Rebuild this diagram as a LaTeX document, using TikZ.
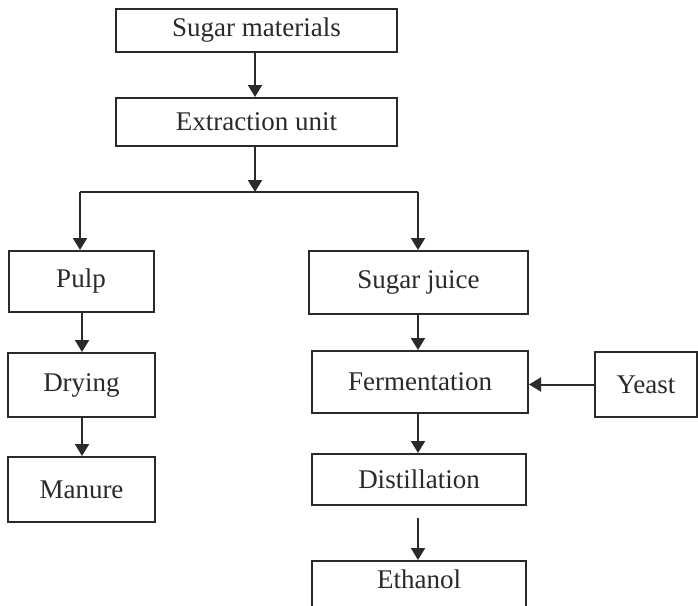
\documentclass[tikz,border=0pt]{standalone}
\usepackage{fontspec}
\setmainfont{Liberation Serif}
\usetikzlibrary{arrows.meta}
\definecolor{ink}{HTML}{2A2A2A}
\begin{document}
\begin{tikzpicture}[x=1pt, y=-1pt,
  box/.style={draw=ink, line width=2pt, fill=white, inner sep=0pt,
              font=\fontsize{27}{31}\selectfont, text=ink},
  flow/.style={draw=ink, line width=2pt, -{Triangle[width=14pt,length=12pt]}},
  link/.style={draw=ink, line width=2pt}]
\useasboundingbox (0,0) rectangle (698,605);
\clip (0,0) rectangle (698,605);

% process steps
\node[box, minimum width=281pt, minimum height=43pt] (sugar)   at (256.5,30.5) {Sugar materials};
\node[box, minimum width=281pt, minimum height=48pt] (extract) at (256.5,122)  {Extraction unit};
\node[box, minimum width=145pt, minimum height=61pt] (pulp)    at (81,281.5)   {Pulp};
\node[box, minimum width=147pt, minimum height=64pt] (drying)  at (81.5,385)   {Drying};
\node[box, minimum width=147pt, minimum height=65pt] (manure)  at (81.5,489.5) {Manure};
\node[box, minimum width=219pt, minimum height=63pt] (juice)   at (418.5,282.5){Sugar juice};
\node[box, minimum width=216pt, minimum height=62pt] (ferm)    at (420,382)    {Fermentation};
\node[box, minimum width=102pt, minimum height=65pt] (yeast)   at (646,384.5)  {Yeast};
\node[box, minimum width=214pt, minimum height=51pt] (dist)    at (419,479.5)  {Distillation};
\node[box, minimum width=214pt, minimum height=62pt,
      anchor=north] (ethanol) at (419,560) {\raisebox{26pt}{Ethanol}};

% branching point below the extraction unit
\coordinate (split) at (255,192);

% vertical lanes of the connectors
\coordinate (lmain)  at (255,0);
\coordinate (lleft)  at (82,0);
\coordinate (lright) at (418,0);

% connectors
\draw[flow] (lmain |- sugar.south) -- (lmain |- extract.north);
\draw[flow] (lmain |- extract.south) -- (split);
\draw[link] (split -| 80,0) -- (split -| lright);
\draw[flow] (split -| 80,0) -- (80,0 |- pulp.north);
\draw[flow] (split -| lright) -- (lright |- juice.north);
\draw[flow] (lleft |- pulp.south) -- (lleft |- drying.north);
\draw[flow] (lleft |- drying.south) -- (lleft |- manure.north);
\draw[flow] (lright |- juice.south) -- (lright |- ferm.north);
\draw[flow] (yeast.west) -- (yeast.west -| ferm.east);
\draw[flow] (lright |- ferm.south) -- (lright |- dist.north);
\draw[flow, shorten <=12pt] (lright |- dist.south) -- (lright |- ethanol.north);
\end{tikzpicture}
\end{document}
